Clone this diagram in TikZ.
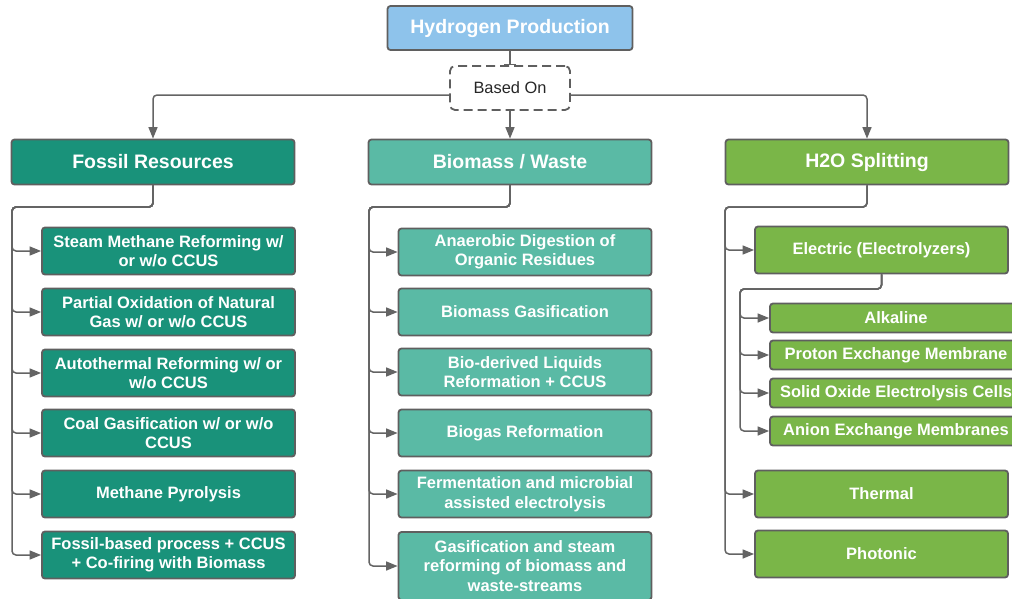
\documentclass[tikz,border=0pt]{standalone}
\usepackage{fontspec}
\setmainfont{Liberation Sans}
\usetikzlibrary{arrows.meta}
\definecolor{hydroblue}{RGB}{142,195,235}
\definecolor{fossilgreen}{RGB}{25,146,122}
\definecolor{biomassgreen}{RGB}{90,186,165}
\definecolor{watergreen}{RGB}{122,182,72}
\definecolor{edgegrey}{RGB}{95,95,95}
\definecolor{linegrey}{RGB}{100,100,100}
\tikzset{
  box/.style={draw=edgegrey, line width=1.8pt, rounded corners=3pt, align=center, text=white, inner sep=0pt,
    font=\bfseries\fontsize{16.5}{19.5}\selectfont},
  head/.style={box, minimum width=283pt, minimum height=45pt, font=\bfseries\fontsize{19.5}{22}\selectfont},
  item/.style={box, minimum width=253pt, minimum height=47pt},
  subitem/.style={box, fill=watergreen, minimum width=252pt, minimum height=29pt},
  link/.style={->, draw=linegrey, line width=1.5pt, rounded corners=4pt}
}

\begin{document}
\begin{tikzpicture}[x=1pt,y=-1pt,>={Triangle[length=11.5pt,width=9pt]}]
\clip (0,0) rectangle (1012,598);
\node[head, fill=hydroblue, minimum width=245pt, minimum height=44pt] (hp) at (510,28) {Hydrogen Production};
\node[draw=edgegrey, dash pattern=on 9pt off 5pt, line width=1.8pt, rounded corners=5pt, minimum width=120pt, minimum height=44pt,
  text=black!85, font=\fontsize{16.4}{19}\selectfont] (based) at (510,88) {Based On};
\coordinate (split) at (0,95);

% the three sources
\node[head, fill=fossilgreen] (fossil) at (153,162) {Fossil Resources};
\node[head, fill=biomassgreen] (biomass) at (510,162) {Biomass / Waste};
\node[head, fill=watergreen] (water) at (867,162) {H2O Splitting};

% fossil
\node[item, fill=fossilgreen] (f1) at (168.5,251) {Steam Methane Reforming w/\\or w/o CCUS};
\node[item, fill=fossilgreen] (f2) at (168.5,312) {Partial Oxidation of Natural\\Gas w/ or w/o CCUS};
\node[item, fill=fossilgreen] (f3) at (168.5,373) {Autothermal Reforming w/ or\\w/o CCUS};
\node[item, fill=fossilgreen] (f4) at (168.5,433) {Coal Gasification w/ or w/o\\CCUS};
\node[item, fill=fossilgreen] (f5) at (168.5,494) {Methane Pyrolysis};
\node[item, fill=fossilgreen] (f6) at (168.5,555) {Fossil-based process + CCUS\\+ Co-firing with Biomass};

% biomass
\node[item, fill=biomassgreen] (b1) at (525,252) {Anaerobic Digestion of\\Organic Residues};
\node[item, fill=biomassgreen] (b2) at (525,312) {Biomass Gasification};
\node[item, fill=biomassgreen] (b3) at (525,372) {Bio-derived Liquids\\Reformation + CCUS};
\node[item, fill=biomassgreen] (b4) at (525,433) {Biogas Reformation};
\node[item, fill=biomassgreen] (b5) at (525,494) {Fermentation and microbial\\assisted electrolysis};
\node[item, fill=biomassgreen, minimum height=68pt] (b6) at (525,566) {Gasification and steam\\reforming of biomass and\\waste-streams};

% water
\node[item, fill=watergreen] (w1) at (881.5,250) {Electric (Electrolyzers)};
\node[item, fill=watergreen] (w2) at (881.5,494) {Thermal};
\node[item, fill=watergreen] (w3) at (881.5,554) {Photonic};
\node[subitem] (e1) at (896,318) {Alkaline};
\node[subitem] (e2) at (896,355) {Proton Exchange Membrane};
\node[subitem] (e3) at (896,393) {Solid Oxide Electrolysis Cells};
\node[subitem] (e4) at (896,431) {Anion Exchange Membranes};

\coordinate (fbend) at (12,207);
\coordinate (bbend) at (369,207);
\coordinate (wbend) at (725,207);
\coordinate (ebend) at (740,289);

% connectors
\draw[-{Bar[width=12pt]}, draw=linegrey, line width=1.5pt] (hp) -- (based);
\draw[link] (based.west |- split) -| (fossil.north);
\draw[link] (based.east |- split) -| (water.north);
\draw[link] (based) -- (biomass);

\draw[link] (fossil.south) |- (fbend) |- (f1.west);
\draw[link] (fossil.south) |- (fbend) |- (f2.west);
\draw[link] (fossil.south) |- (fbend) |- (f3.west);
\draw[link] (fossil.south) |- (fbend) |- (f4.west);
\draw[link] (fossil.south) |- (fbend) |- (f5.west);
\draw[link] (fossil.south) |- (fbend) |- (f6.west);

\draw[link] (biomass.south) |- (bbend) |- (b1.west);
\draw[link] (biomass.south) |- (bbend) |- (b2.west);
\draw[link] (biomass.south) |- (bbend) |- (b3.west);
\draw[link] (biomass.south) |- (bbend) |- (b4.west);
\draw[link] (biomass.south) |- (bbend) |- (b5.west);
\draw[link] (biomass.south) |- (bbend) |- (b6.west);

\draw[link] (water.south) |- (wbend) |- (w1.west);
\draw[link] (water.south) |- (wbend) |- (w2.west);
\draw[link] (water.south) |- (wbend) |- (w3.west);

\draw[link] (w1.south) |- (ebend) |- (e1.west);
\draw[link] (w1.south) |- (ebend) |- (e2.west);
\draw[link] (w1.south) |- (ebend) |- (e3.west);
\draw[link] (w1.south) |- (ebend) |- (e4.west);
\end{tikzpicture}
\end{document}
